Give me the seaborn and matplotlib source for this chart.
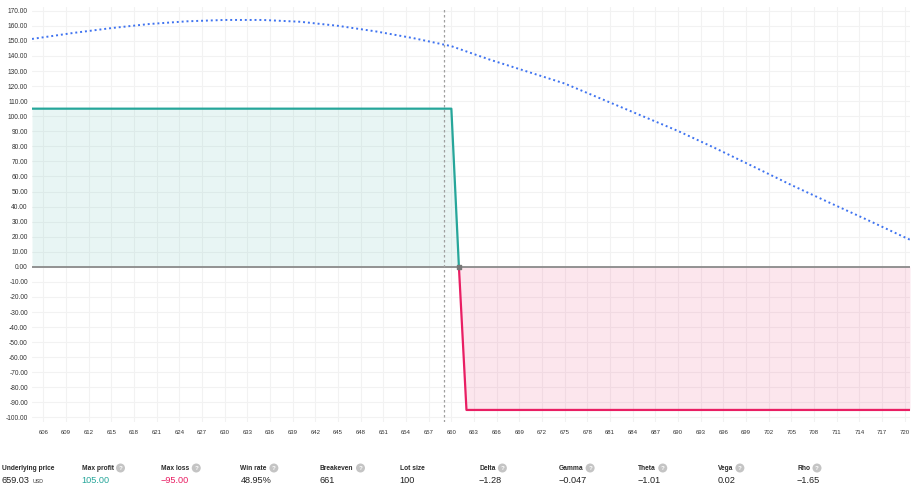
import numpy as np
import pandas as pd
import matplotlib
matplotlib.use("Agg")
import matplotlib.pyplot as plt
import seaborn as sns

# ---------------- data ----------------
payoff_price = [604.5, 660.0, 661.0, 662.0, 720.7]
payoff_value = [105.0, 105.0, 0.0, -95.0, -95.0]

curve_price = [604.5, 610, 615, 620, 625, 630, 635, 640, 645, 650, 655, 660,
               665, 670, 675, 680, 685, 690, 695, 700, 705, 710, 715, 720, 720.7]
curve_value = [151.3, 155.3, 158.5, 161.2, 163.0, 163.9, 163.9, 162.7, 160.0,
               156.3, 151.8, 146.5, 137.7, 129.7, 121.7, 111.2, 100.7, 90.2,
               78.6, 66.5, 54.3, 42.7, 31.3, 19.6, 18.0]

underlying = 659.03
breakeven = 661.0
x_ticks = list(range(606, 721, 3))
y_ticks = list(range(-100, 171, 10))

stat_labels = ["Underlying price", "Max profit", "Max loss", "Win rate", "Breakeven",
               "Lot size", "Delta", "Gamma", "Theta", "Vega", "Rho"]
stat_values = ["659.03", "105.00", "\u221295.00", "48.95%", "661", "100",
               "\u22121.28", "\u22120.047", "\u22121.01", "0.02", "\u22121.65"]
stat_help = [False, True, True, True, True, False, True, True, True, True, True]

# ---------------- style ----------------
sns.set_theme(style="white")
plt.rcParams["font.family"] = ["Liberation Sans", "DejaVu Sans"]

GREEN = "#26a69a"
RED = "#e91e63"
BLUE = "#3f73f0"

W, H = 915, 490
fig = plt.figure(figsize=(W / 100, H / 100), dpi=100)
ax = fig.add_axes([32 / W, 1 - 422 / H, 878 / W, 415 / H])

pay = pd.DataFrame({"price": payoff_price, "pl": payoff_value})
pos = pay[pay["price"] <= breakeven]
neg = pay[pay["price"] >= breakeven]
cur = pd.DataFrame({"price": curve_price, "pl": curve_value})

# fills
ax.fill_between(pos["price"], pos["pl"], 0, color=GREEN, alpha=0.10, linewidth=0)
ax.fill_between(neg["price"], neg["pl"], 0, color=RED, alpha=0.11, linewidth=0)

# zero line
ax.axhline(0, color="#8a8a8a", lw=1.3, zorder=2)
# underlying price line
ax.axvline(underlying, color="#a0a0a0", lw=0.9, ls=(0, (2, 2)), zorder=2)

sns.lineplot(data=pos, x="price", y="pl", ax=ax, color=GREEN, lw=1.6,
             sort=False, estimator=None, zorder=3)
sns.lineplot(data=neg, x="price", y="pl", ax=ax, color=RED, lw=1.6,
             sort=False, estimator=None, zorder=3)
sns.lineplot(data=cur, x="price", y="pl", ax=ax, color=BLUE, lw=1.4,
             ls=(0, (1, 1.5)), estimator=None, zorder=3)
ax.scatter([breakeven], [0], marker="s", s=9, color="#777777", zorder=4)

ax.set_xlim(604.5, 720.7)
ax.set_ylim(-103, 172.5)
ax.set_xticks(x_ticks)
ax.set_yticks(y_ticks)
ax.set_xticklabels([str(t) for t in x_ticks])
ax.set_yticklabels([f"{t:.2f}" for t in y_ticks])
ax.tick_params(axis="both", length=0, colors="#333333")
ax.tick_params(axis="x", pad=6, labelsize=4.3)
ax.tick_params(axis="y", pad=3, labelsize=4.8)
ax.grid(True, color="#f2f2f2", lw=0.8)
ax.set_axisbelow(True)
for s in ax.spines.values():
    s.set_visible(False)
ax.set_xlabel("")
ax.set_ylabel("")

# ---------------- stats row ----------------
fig.canvas.draw()
renderer = fig.canvas.get_renderer()
x0 = 2 / W
dx = 79.5 / W
for i, (lab, val, hp) in enumerate(zip(stat_labels, stat_values, stat_help)):
    x = x0 + i * dx
    t = fig.text(x, 1 - 468 / H, lab, fontsize=4.8, fontweight="bold",
                 color="#2a2a2a", va="center", ha="left")
    if hp:
        bb = t.get_window_extent(renderer=renderer)
        fig.text((bb.x1 + 7) / W, 1 - 468 / H, "?", fontsize=4.5,
                 color="white", fontweight="bold", va="center", ha="center",
                 bbox=dict(boxstyle="circle,pad=0.32", fc="#c4c4c4", ec="none"))
    col = "#222222"
    if i == 1:
        col = GREEN
    elif i == 2:
        col = RED
    v = fig.text(x, 1 - 480 / H, val, fontsize=6.6, color=col,
                 va="center", ha="left")
    if i == 0:
        bb = v.get_window_extent(renderer=renderer)
        fig.text((bb.x1 + 3) / W, 1 - 481 / H, "USD", fontsize=3.8,
                 color="#333333", va="center", ha="left")

fig.savefig("out.png", dpi=100, facecolor="white")
